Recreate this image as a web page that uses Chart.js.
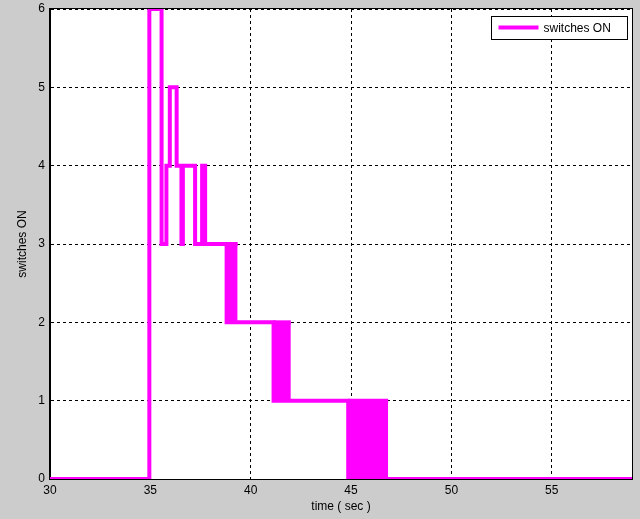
<!DOCTYPE html>
<html>
<head>
<meta charset="utf-8">
<script src="https://cdn.jsdelivr.net/npm/chart.js@4"></script>
<style>
  html, body { margin: 0; padding: 0; background: #cccccc; }
  canvas { display: block; }
</style>
</head>
<body>
<canvas id="switchChart" width="640" height="519"></canvas>
<script>
// step signal: level that starts at each time
const switchTimes = [30, 34.95, 35.56, 35.8, 35.97, 36.31, 36.55, 36.62, 37.23, 37.58, 37.73, 38.8, 41.14, 44.86, 59];
const switchLevels = [0, 6, 3, 4, 5, 4, 3, 4, 3, 4, 3, 2, 1, 0, 0];

// chattering regions (fast toggling between two levels)
const bandStart = [38.8, 41.14, 44.86];
const bandEnd = [39.35, 42.0, 46.85];
const bandHigh = [3, 2, 1];
const bandLow = [2, 1, 0];

const xTicks = [30, 35, 40, 45, 50, 55];
const yTicks = [0, 1, 2, 3, 4, 5, 6];

const lineColor = '#ff00ff';

Chart.defaults.font.family = "'Liberation Sans', Arial, sans-serif";
Chart.defaults.font.size = 12;
Chart.defaults.color = '#000';

const datasets = [{
  label: 'switches ON',
  data: switchTimes.map((t, i) => ({ x: t, y: switchLevels[i] })),
  stepped: true,
  borderColor: lineColor,
  backgroundColor: lineColor,
  borderWidth: 4,
  pointRadius: 0,
  fill: false,
  clip: 0
}];

bandStart.forEach((s, i) => {
  datasets.push({
    label: 'band' + i,
    data: [{ x: s, y: bandHigh[i] }, { x: bandEnd[i], y: bandHigh[i] }],
    borderColor: lineColor,
    backgroundColor: lineColor,
    borderWidth: 4,
    pointRadius: 0,
    fill: { value: bandLow[i] },
    clip: 0
  });
});

// gray figure, white axes, black box and legend
const matlabLook = {
  id: 'matlabLook',
  beforeDraw(chart) {
    const { ctx, chartArea: a } = chart;
    ctx.save();
    ctx.fillStyle = '#cccccc';
    ctx.fillRect(0, 0, chart.width, chart.height);
    ctx.fillStyle = '#ffffff';
    ctx.fillRect(a.left, a.top, a.right - a.left, a.bottom - a.top);
    ctx.restore();
  },
  afterDatasetsDraw(chart) {
    const { ctx, chartArea: a } = chart;
    ctx.save();
    ctx.strokeStyle = '#000';
    ctx.lineWidth = 1;
    ctx.strokeRect(a.left - 0.5, a.top - 0.5, a.right - a.left + 1, a.bottom - a.top + 1);

    // legend box
    const bx = Math.round(a.right - 141) + 0.5;
    const by = Math.round(a.top + 7) + 0.5;
    ctx.fillStyle = '#fff';
    ctx.fillRect(bx, by, 136, 23);
    ctx.strokeRect(bx, by, 136, 23);
    ctx.strokeStyle = lineColor;
    ctx.lineWidth = 4;
    ctx.beginPath();
    ctx.moveTo(bx + 7, by + 11);
    ctx.lineTo(bx + 47, by + 11);
    ctx.stroke();
    ctx.fillStyle = '#000';
    ctx.font = "12px 'Liberation Sans', Arial, sans-serif";
    ctx.textBaseline = 'middle';
    ctx.fillText(datasets[0].label, bx + 52, by + 12);
    ctx.restore();
  }
};

new Chart(document.getElementById('switchChart'), {
  type: 'line',
  data: { datasets },
  options: {
    responsive: false,
    animation: false,
    devicePixelRatio: 1,
    layout: { padding: { top: 9, right: 8, left: 0, bottom: 0 } },
    plugins: {
      legend: { display: false },
      tooltip: { enabled: false }
    },
    scales: {
      x: {
        type: 'linear',
        min: 30,
        max: 59,
        afterFit: (s) => { s.height = 40; s.paddingRight = 0; },
        afterBuildTicks: (s) => { s.ticks = xTicks.map(v => ({ value: v })); },
        ticks: { padding: 4, maxRotation: 0 },
        grid: { color: '#000', lineWidth: 1, drawTicks: false },
        border: { display: true, color: '#000', dash: [3, 3] },
        title: { display: true, text: 'time ( sec )', padding: { top: 0, bottom: 5 } }
      },
      y: {
        min: 0,
        max: 6,
        afterFit: (s) => { s.width = 50; s.paddingTop = 0; },
        afterBuildTicks: (s) => { s.ticks = yTicks.map(v => ({ value: v })); },
        ticks: { padding: 5 },
        grid: { color: '#000', lineWidth: 1, drawTicks: false },
        border: { display: true, color: '#000', dash: [3, 3] },
        title: { display: true, text: 'switches ON', padding: { top: 15, bottom: 0 } }
      }
    }
  },
  plugins: [matlabLook]
});
</script>
</body>
</html>
